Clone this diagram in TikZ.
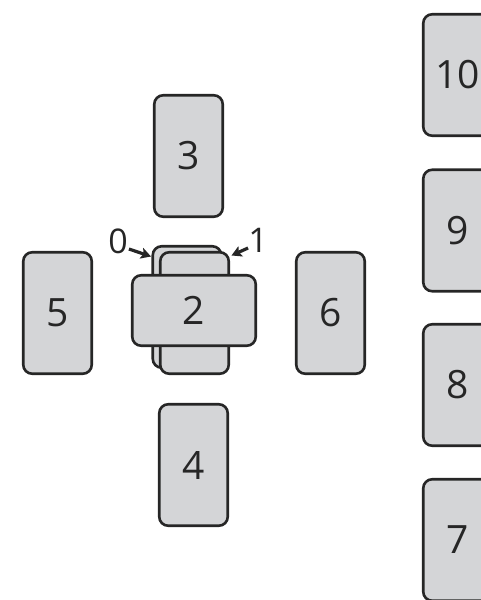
\documentclass[tikz,border=0pt]{standalone}
\usepackage{fontspec}
\setmainfont{Open Sans}
\usetikzlibrary{arrows.meta}
\definecolor{cardfill}{HTML}{D4D5D7}
\definecolor{ink}{HTML}{262626}
\tikzset{
  card/.style={draw=ink, line width=2.6pt, fill=cardfill, rounded corners=9pt,
    minimum width=68.5pt, minimum height=121.5pt, inner sep=0pt,
    font=\fontsize{39}{39}\selectfont, text=ink},
  hcard/.style={card, minimum width=123.5pt, minimum height=70.5pt},
  lbl/.style={inner sep=0pt, font=\fontsize{34}{34}\selectfont, text=ink},
  arr/.style={draw=ink, line width=3.2pt, -{Stealth[length=10pt,width=11pt,inset=2pt]}}
}
\begin{document}
\begin{tikzpicture}[x=1pt,y=-1pt]
\useasboundingbox (0,0) rectangle (481,600);
% cross
\node[card] (c3) at (188.5,156) {3};
\node[card] (c5) at (57.5,313) {5};
\node[card] (c6) at (330.5,313) {6};
\node[card] (c4) at (193.5,465) {4};
\node[card] (c0) at (187,307) {};
\node[card] (c1) at (194.5,313) {};
\node[hcard] (c2) at (194,310.5) {2};
% staff
\node[card] (c10) at (457.5,75) {10};
\node[card] (c9) at (457.5,230.5) {9};
\node[card] (c8) at (457.5,385) {8};
\node[card] (c7) at (457.5,540) {7};
% labels
\node[lbl] (l0) at (118,241) {0};
\node[lbl] (l1) at (258,240) {1};
\coordinate (t0) at (151,256.5);
\coordinate (t1) at (231.5,255.5);
\path (l0.east) ++(1,8) coordinate (s0);
\path (l1.west) ++(0,8) coordinate (s1);
\draw[arr] (s0) -- (t0);
\draw[arr] (s1) -- (t1);
\end{tikzpicture}
\end{document}
